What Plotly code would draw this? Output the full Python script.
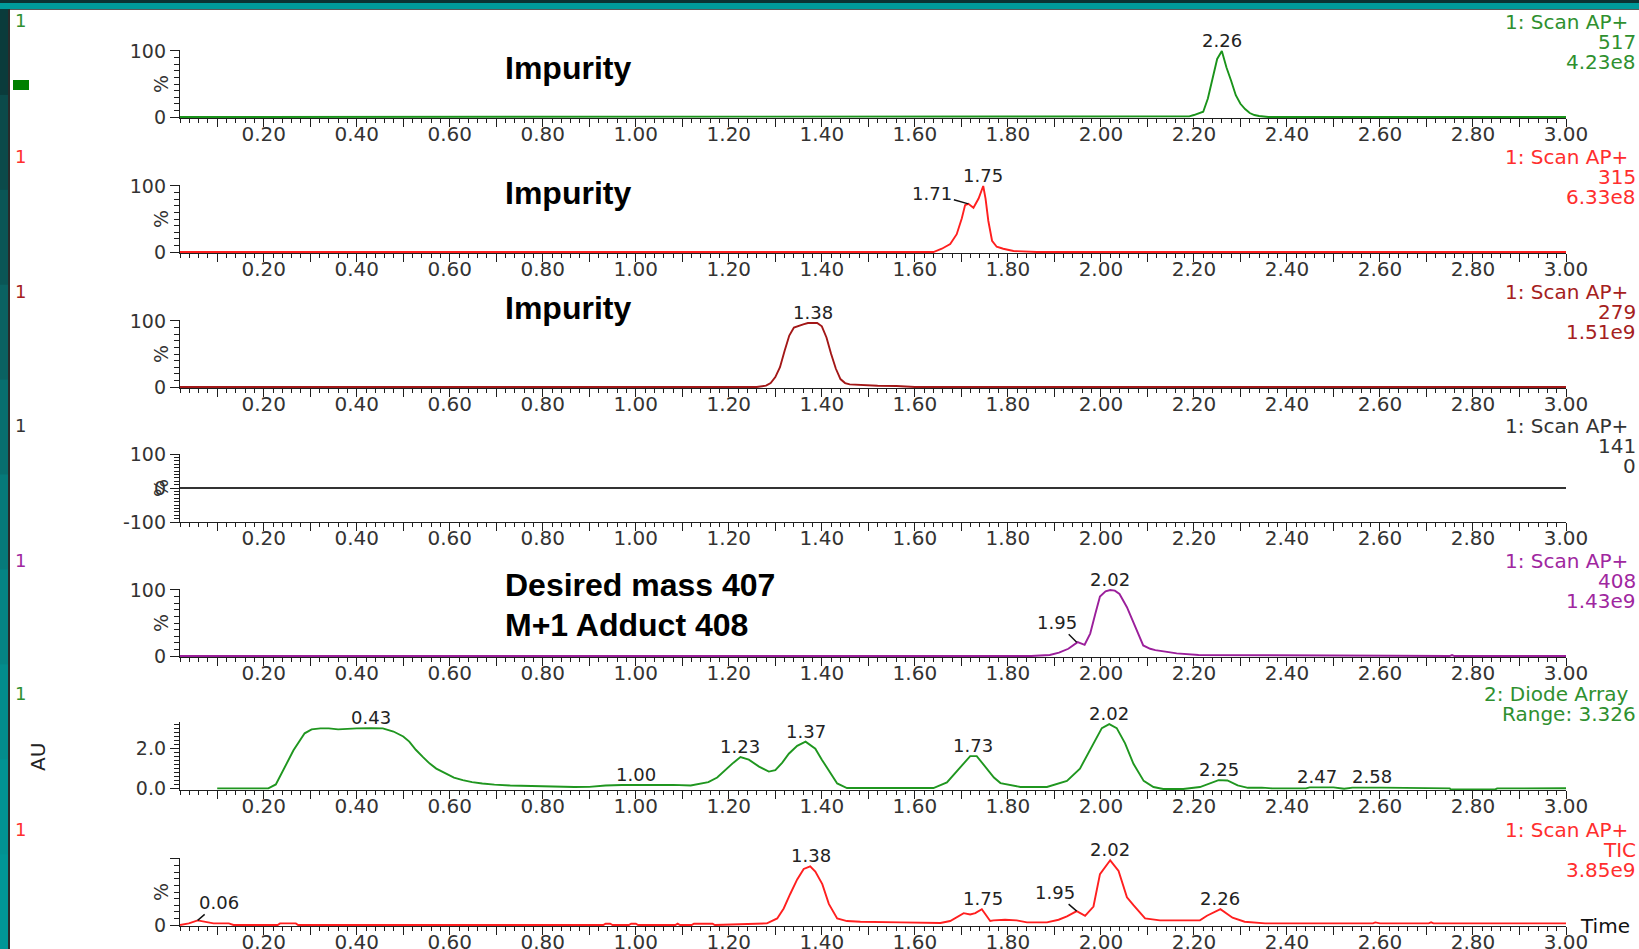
import plotly.graph_objects as go

W, H = 1639, 949

# ---------------- data ----------------
x_tick_labels = ["0.20", "0.40", "0.60", "0.80", "1.00", "1.20", "1.40", "1.60",
                 "1.80", "2.00", "2.20", "2.40", "2.60", "2.80", "3.00"]
x_major_ticks = [0.1, 0.2, 0.3, 0.4, 0.5, 0.6, 0.7, 0.8, 0.9, 1.0, 1.1, 1.2, 1.3, 1.4, 1.5,
                 1.6, 1.7, 1.8, 1.9, 2.0, 2.1, 2.2, 2.3, 2.4, 2.5, 2.6, 2.7, 2.8, 2.9, 3.0]

# Panel 1: Scan AP+ 517
t_517 = [0.02, 2.18, 2.19, 2.20, 2.21, 2.22, 2.23, 2.24, 2.25, 2.26, 2.27, 2.28, 2.29,
         2.30, 2.31, 2.32, 2.33, 2.34, 2.35, 2.36, 3.00]
i_517 = [0, 0, 1, 3, 5, 8, 28, 60, 88, 100, 75, 55, 33, 20, 12, 6, 3, 1.5, 0.5, 0, 0]

# Panel 2: Scan AP+ 315
t_315 = [0.02, 1.64, 1.658, 1.676, 1.690, 1.701, 1.708, 1.715, 1.726, 1.737, 1.747,
         1.752, 1.758, 1.766, 1.776, 1.790, 1.812, 1.862, 3.00]
i_315 = [0, 0, 5, 12, 27, 51, 71, 73, 67, 81, 100, 81, 47, 17, 8, 5, 1.5, 0, 0]

# Panel 3: Scan AP+ 279
t_279 = [0.02, 1.26, 1.28, 1.29, 1.30, 1.31, 1.32, 1.33, 1.34, 1.35, 1.36, 1.37, 1.38,
         1.39, 1.40, 1.41, 1.42, 1.43, 1.44, 1.45, 1.46, 1.48, 1.52, 1.56, 1.58, 1.60, 3.00]
i_279 = [0, 0, 2, 6, 15, 30, 55, 78, 90, 93, 95, 97, 97, 97, 92, 75, 50, 28, 12, 6, 4,
         3, 2, 1.5, 0.5, 0, 0]

# Panel 4: Scan AP+ 141 (flat)
t_141 = [0.02, 3.00]
i_141 = [0, 0]

# Panel 5: Scan AP+ 408
t_408 = [0.02, 1.85, 1.89, 1.91, 1.93, 1.95, 1.965, 1.977, 1.988, 1.998, 2.01, 2.02,
         2.03, 2.04, 2.056, 2.074, 2.091, 2.106, 2.117, 2.135, 2.153, 2.163, 2.21,
         2.72, 2.725, 2.75, 2.755, 2.76, 3.00]
i_408 = [0, 0, 1.5, 5, 11, 21, 17, 34, 64, 90, 98, 100, 99, 94, 74, 44, 16, 11, 9, 7,
         5, 4, 1.5, 1, 0, 0, 1.5, 0, 0]

# Panel 6: Diode Array (AU)
t_dad = [0.10, 0.21, 0.226, 0.245, 0.264, 0.288, 0.303, 0.322, 0.34, 0.36, 0.38, 0.40,
         0.43, 0.456, 0.479, 0.50, 0.513, 0.527, 0.542, 0.557, 0.571, 0.59, 0.609, 0.628,
         0.648, 0.67, 0.696, 0.73, 0.773, 0.80, 0.868, 0.90, 0.935, 0.97, 1.032, 1.08,
         1.118, 1.156, 1.175, 1.195, 1.21, 1.225, 1.243, 1.265, 1.286, 1.30, 1.315, 1.329,
         1.347, 1.365, 1.386, 1.40, 1.415, 1.433, 1.454, 1.64, 1.669, 1.698, 1.719, 1.733,
         1.755, 1.77, 1.784, 1.827, 1.884, 1.927, 1.955, 1.984, 2.002, 2.018, 2.034, 2.052,
         2.07, 2.092, 2.113, 2.134, 2.177, 2.213, 2.235, 2.253, 2.272, 2.294, 2.316, 2.346,
         2.368, 2.441, 2.449, 2.50, 2.523, 2.541, 2.604, 2.75, 2.752, 2.848, 2.852, 3.00]
a_dad = [0.0, 0.0, 0.2, 1.07, 1.92, 2.78, 2.98, 3.03, 3.03, 2.98, 3.02, 3.03,
         3.04, 3.03, 2.87, 2.62, 2.36, 1.95, 1.59, 1.25, 1.0, 0.75, 0.54, 0.42,
         0.32, 0.25, 0.19, 0.15, 0.12, 0.11, 0.07, 0.08, 0.15, 0.17, 0.19, 0.18,
         0.15, 0.32, 0.55, 1.0, 1.3, 1.58, 1.45, 1.1, 0.85, 0.92, 1.3, 1.75,
         2.15, 2.36, 2.0, 1.45, 0.9, 0.25, 0.02, 0.02, 0.3, 1.07, 1.63, 1.63,
         1.0, 0.55, 0.27, 0.07, 0.07, 0.38, 1.0, 2.27, 3.04, 3.24, 3.04, 2.27,
         1.24, 0.38, 0.07, -0.03, -0.03, 0.07, 0.25, 0.42, 0.4, 0.15, 0.03, 0.04,
         0.0, 0.0, 0.05, 0.05, -0.02, 0.04, 0.04, 0.0, -0.05, -0.05, 0.0, 0.01]

# Panel 7: TIC
t_tic = [0.02, 0.039, 0.058, 0.077, 0.092, 0.125, 0.135, 0.23, 0.235, 0.269, 0.274,
         0.93, 0.935, 0.945, 0.95, 0.985, 0.99, 1.0, 1.005, 1.085, 1.09, 1.095, 1.12,
         1.125, 1.165, 1.17, 1.239, 1.282, 1.304, 1.318, 1.332, 1.347, 1.361, 1.375,
         1.386, 1.401, 1.415, 1.433, 1.454, 1.483, 1.569, 1.655, 1.676, 1.705, 1.719,
         1.730, 1.744, 1.762, 1.769, 1.794, 1.819, 1.841, 1.884, 1.909, 1.927, 1.948,
         1.966, 1.984, 1.998, 2.020, 2.038, 2.056, 2.070, 2.095, 2.127, 2.213, 2.228,
         2.257, 2.283, 2.309, 2.353, 2.585, 2.59, 2.60, 2.705, 2.71, 2.715, 3.00]
i_tic = [0, 2.5, 7, 4, 2.5, 2.5, 0, 0, 2.5, 2.5, 0,
         0, 2, 2, 0, 0, 2, 2, 0, 0, 2, 0, 0,
         2, 2, 0, 1, 2.5, 10, 25, 47, 69, 85, 89,
         81, 62, 32, 10, 6, 5, 4, 3, 6, 18, 16,
         18, 24, 6, 7, 8, 7, 4, 4, 8, 13, 21,
         14, 28, 77, 98, 82, 42, 30, 10, 7, 7, 14,
         24, 11, 5, 2.5, 2.5, 4, 2.5, 2.5, 4, 2.5, 2.5]

# peak labels: (text, time, height)
peaks_517 = [("2.26", 2.26, 100)]
peaks_315 = [("1.75", 1.747, 100)]
leaders_315 = [("1.71", 1.715, 73, -36, -10)]
peaks_279 = [("1.38", 1.38, 97)]
peaks_408 = [("2.02", 2.02, 100)]
leaders_408 = [("1.95", 1.948, 21, -20, -20)]
peaks_dad = [("0.43", 0.43, 3.04), ("1.00", 1.00, 0.19), ("1.23", 1.225, 1.58),
             ("1.37", 1.365, 2.36), ("1.73", 1.726, 1.63), ("2.02", 2.018, 3.24),
             ("2.25", 2.253, 0.42), ("2.47", 2.464, 0.05), ("2.58", 2.582, 0.05)]
peaks_tic = [("1.38", 1.377, 89), ("1.75", 1.746, 24), ("2.02", 2.02, 98), ("2.26", 2.257, 24)]
leaders_tic = [("0.06", 0.058, 7, 21, -18), ("1.95", 1.948, 21, -22, -19)]

# right-hand header texts
headers = [["1: Scan AP+", "517", "4.23e8"],
           ["1: Scan AP+", "315", "6.33e8"],
           ["1: Scan AP+", "279", "1.51e9"],
           ["1: Scan AP+", "141", "0"],
           ["1: Scan AP+", "408", "1.43e9"],
           ["2: Diode Array", "Range: 3.326"],
           ["1: Scan AP+", "TIC", "3.85e9"]]

big_labels = [("Impurity", 68), ("Impurity", 193), ("Impurity", 308),
              ("Desired mass 407", 585), ("M+1 Adduct 408", 625)]

# ---------------- styling ----------------
line_colors = ["#1a931a", "#ff1f1f", "#a31717", "#333333", "#9b1f9b", "#1f961f", "#ff1f1f"]
text_colors = ["#2f902f", "#ff2e2e", "#a52020", "#333333", "#a0279f", "#2f902f", "#ff2e2e"]
bases = [118, 253, 388, 522, 657, 790, 926]
PH = 68
X0, X1 = 180, 1566

series = [(t_517, i_517), (t_315, i_315), (t_279, i_279), (t_141, i_141),
          (t_408, i_408), (t_dad, a_dad), (t_tic, i_tic)]

def px_x(p):
    return p / W

def px_y(p):
    return 1 - p / H

fig = go.Figure()
AX = "#1e1e1e"
TF = dict(family="DejaVu Sans", size=20, color="#333333")
YF = dict(family="DejaVu Sans", size=19, color="#333333")

x_tickvals = x_major_ticks
x_ticktext = []
for v in x_major_ticks:
    s = "%.2f" % v
    x_ticktext.append(s if s in x_tick_labels else "")

layout_axes = {}
for k in range(7):
    n = "" if k == 0 else str(k + 1)
    base = bases[k]
    top = base - PH
    t, v = series[k]
    fig.add_trace(go.Scatter(x=t, y=v, mode="lines", xaxis="x" + n, yaxis="y" + n,
                             line=dict(color=line_colors[k], width=1.9), showlegend=False,
                             hoverinfo="skip"))
    layout_axes["xaxis" + n] = dict(
        domain=[px_x(X0), px_x(X1)], anchor="y" + n, range=[0.02, 3.0],
        showline=True, linecolor=AX, linewidth=1.3, ticks="outside", ticklen=8,
        tickwidth=1.3, tickcolor=AX, tickmode="array", tickvals=x_tickvals,
        ticktext=x_ticktext, tickfont=TF, showgrid=False, zeroline=False,
        layer="below traces", ticklabelstandoff=-10, automargin=False,
        minor=dict(tickmode="linear", tick0=0, dtick=0.02, ticklen=4, tickwidth=1.2,
                   tickcolor=AX, ticks="outside", showgrid=False))
    if k == 3:
        yr, tv, tt, md = [-100, 100], [-100, 0, 100], ["-100", "0", "100"], 10
    elif k == 5:
        yr, tv, tt, md = [-0.08, 3.35], [0, 2], ["0.0", "2.0"], 0.2
    elif k == 6:
        yr, tv, tt, md = [-1.5, 101.5], [0, 100], ["0", ""], 10
    else:
        yr, tv, tt, md = [-1.5, 101.5], [0, 100], ["0", "100"], 10
    layout_axes["yaxis" + n] = dict(
        domain=[px_y(base), px_y(top)], anchor="x" + n, range=yr,
        showline=True, linecolor=AX, linewidth=1.3, ticks="outside", ticklen=9,
        tickwidth=1.3, tickcolor=AX, tickmode="array", tickvals=tv, ticktext=tt,
        tickfont=YF, showgrid=False, zeroline=False, layer="below traces",
        automargin=False,
        minor=dict(tickmode="linear", tick0=0, dtick=md, ticklen=5, tickwidth=1.1,
                   tickcolor=AX, ticks="outside", showgrid=False))

annotations = []
PF = dict(family="DejaVu Sans", size=18, color="#222222")

def peak_ann(k, lst):
    n = "" if k == 0 else str(k + 1)
    for txt, t, v in lst:
        annotations.append(dict(x=t, y=v, xref="x" + n, yref="y" + n, text=txt,
                                showarrow=False, yanchor="bottom", xanchor="center",
                                yshift=-2, font=PF))

def leader_ann(k, lst):
    n = "" if k == 0 else str(k + 1)
    for txt, t, v, ax, ay in lst:
        annotations.append(dict(x=t, y=v, xref="x" + n, yref="y" + n, text=txt,
                                showarrow=True, arrowhead=0, arrowwidth=1.4,
                                arrowcolor="#111111", ax=ax, ay=ay, standoff=0,
                                font=PF))

peak_ann(0, peaks_517)
peak_ann(1, peaks_315)
leader_ann(1, leaders_315)
peak_ann(2, peaks_279)
peak_ann(4, peaks_408)
leader_ann(4, leaders_408)
peak_ann(5, peaks_dad)
peak_ann(6, peaks_tic)
leader_ann(6, leaders_tic)

# header texts on the right and "1" on the left
HF = 20
for k in range(7):
    base = bases[k]
    lines = headers[k]
    for j, s in enumerate(lines):
        xr = 1630 if j == 0 else 1638
        annotations.append(dict(x=px_x(xr), y=px_y(base - 96 + 20 * j), xref="paper",
                                yref="paper", text=s, showarrow=False, xanchor="right",
                                yanchor="middle",
                                font=dict(family="DejaVu Sans", size=HF, color=text_colors[k])))
    annotations.append(dict(x=px_x(20), y=px_y(base - 97), xref="paper", yref="paper",
                            text="1", showarrow=False, xanchor="center", yanchor="middle",
                            font=dict(family="DejaVu Sans", size=18, color=text_colors[k])))
    if k != 5:
        annotations.append(dict(x=px_x(161), y=px_y(base - PH / 2), xref="paper",
                                yref="paper", text="%", showarrow=False, textangle=-90,
                                xanchor="center", yanchor="middle", font=YF))

annotations.append(dict(x=px_x(38), y=px_y(757), xref="paper", yref="paper", text="AU",
                        showarrow=False, textangle=-90, xanchor="center", yanchor="middle",
                        font=dict(family="DejaVu Sans", size=20, color="#222222")))
annotations.append(dict(x=px_x(1578), y=px_y(926), xref="paper", yref="paper", text="Time",
                        showarrow=False, xanchor="left", yanchor="middle",
                        font=dict(family="DejaVu Sans", size=20, color="#111111")))

for s, yc in big_labels:
    annotations.append(dict(x=px_x(503), y=px_y(yc), xref="paper", yref="paper",
                            text="<b>" + s + "</b>", showarrow=False, xanchor="left",
                            yanchor="middle",
                            font=dict(family="Liberation Sans, Arial", size=32, color="#000000")))

# frame decoration
shapes = []
def rect(x0, y0, x1, y1, color):
    shapes.append(dict(type="rect", xref="paper", yref="paper", x0=px_x(x0), x1=px_x(x1),
                       y0=px_y(y1), y1=px_y(y0), fillcolor=color, line=dict(width=0),
                       layer="below"))

strip_colors = ["#0a3b3b", "#0b4a4a", "#0a5656", "#0a6262", "#086e6e", "#067a7a",
                "#058484", "#038c8c", "#029292", "#019696"]
seg = H / len(strip_colors)
for i, c in enumerate(strip_colors):
    rect(0, i * seg, 8, (i + 1) * seg + 1, c)
rect(0, 0, W, 3, "#0b3232")
rect(0, 3, W, 9, "#009a9a")
rect(8, 9, W, 10, "#5a5a5a")
rect(8, 9, 10, H, "#2a2a2a")
rect(13, 80, 29, 90, "#008000")

fig.update_layout(width=W, height=H,
                  margin=dict(l=0, r=0, t=0, b=0, pad=0, autoexpand=False),
                  paper_bgcolor="white", plot_bgcolor="rgba(0,0,0,0)",
                  annotations=annotations, shapes=shapes, showlegend=False,
                  **layout_axes)

fig.write_html("out.html",
               post_script="document.body.style.margin='0';document.body.style.padding='0';"
                           "document.body.style.overflow='hidden';")
